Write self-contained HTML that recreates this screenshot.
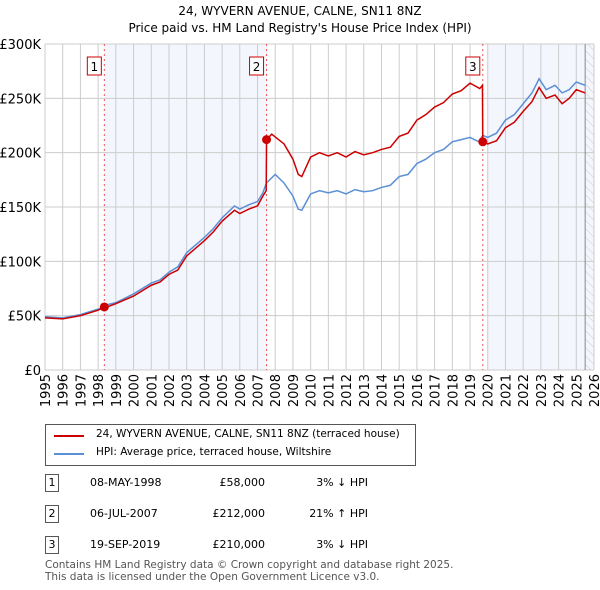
<!DOCTYPE html>
<html><head><meta charset="utf-8"><style>
body{margin:0;background:#fff;font-family:"DejaVu Sans","Liberation Sans",sans-serif;}
#wrap{position:relative;width:600px;height:590px;overflow:hidden}
.t{position:absolute;font-size:11px;color:#000;white-space:nowrap}
.s{font-size:10.5px}
</style></head><body><div id="wrap">
<svg id="svg" width="600" height="420" style="position:absolute;left:0;top:0;font-family:'DejaVu Sans',sans-serif">
<defs><pattern id="hatch" width="6" height="6" patternUnits="userSpaceOnUse" patternTransform="rotate(-45)"><line x1="0" y1="0" x2="0" y2="6" stroke="#ccc" stroke-width="1"/></pattern></defs>
<text x="300" y="15" text-anchor="middle" font-size="12">24, WYVERN AVENUE, CALNE, SN11 8NZ</text>
<text x="300" y="32" text-anchor="middle" font-size="12">Price paid vs. HM Land Registry's House Price Index (HPI)</text>
<g id="g"></g>
</svg>
<div style="position:absolute;left:45px;top:424px;width:369px;height:40px;border:1px solid #555">
<div style="position:absolute;left:8px;top:10px;width:30px;border-top:2px solid #cc0000"></div>
<div class="t s" style="left:50px;top:3px">24, WYVERN AVENUE, CALNE, SN11 8NZ (terraced house)</div>
<div style="position:absolute;left:8px;top:28px;width:30px;border-top:2px solid #5b8fd6"></div>
<div class="t s" style="left:50px;top:21px">HPI: Average price, terraced house, Wiltshire</div>
</div>
<div id="tbl"></div>
<div class="t s" style="left:45px;top:559px;color:#555">Contains HM Land Registry data © Crown copyright and database right 2025.</div>
<div class="t s" style="left:45px;top:571px;color:#555">This data is licensed under the Open Government Licence v3.0.</div>
</div>
<script>
const hpiDates=[1995,1996,1997,1998,1998.35,1998.5,1999,2000,2001,2001.5,2002,2002.5,2003,2003.5,2004,2004.5,2005,2005.7,2006,2006.5,2007,2007.3,2007.5,2008,2008.5,2009,2009.3,2009.5,2010,2010.5,2011,2011.5,2012,2012.5,2013,2013.5,2014,2014.5,2015,2015.5,2016,2016.5,2017,2017.5,2018,2018.5,2019,2019.5,2019.72,2020,2020.5,2021,2021.5,2022,2022.5,2022.9,2023.3,2023.8,2024.2,2024.6,2025,2025.5];
const hpiValues=[49,48,51,56,58,60,62,70,80,83,90,95,108,115,122,130,140,151,148,152,155,163,172,180,172,160,148,147,162,165,163,165,162,166,164,165,168,170,178,180,190,194,200,203,210,212,214,210,216,214,218,230,235,245,255,268,258,262,255,258,265,262];
const redDates=[1995,1996,1997,1998,1998.35,1998.5,1999,2000,2001,2001.5,2002,2002.5,2003,2003.5,2004,2004.5,2005,2005.7,2006,2006.5,2007,2007.3,2007.49,2007.51,2007.8,2008.5,2009,2009.3,2009.5,2010,2010.5,2011,2011.5,2012,2012.5,2013,2013.5,2014,2014.5,2015,2015.5,2016,2016.5,2017,2017.5,2018,2018.5,2019,2019.55,2019.7,2019.72,2020,2020.5,2021,2021.5,2022,2022.5,2022.9,2023.3,2023.8,2024.2,2024.6,2025,2025.5];
const redValues=[48,47,50,55,58,58,61,68,78,81,88,92,105,112,119,127,137,147,144,148,151,160,165,212,217,208,194,180,178,196,200,197,200,196,201,198,200,203,205,215,218,230,235,242,246,254,257,264,259,262,210,208,211,223,228,238,247,260,250,253,245,250,258,255];
const saleLabels=["1","2","3"];
const saleDates=[1998.35,2007.51,2019.72];
const saleValues=[58,212,210];
const saleDateText=["08-MAY-1998","06-JUL-2007","19-SEP-2019"];
const salePriceText=["£58,000","£212,000","£210,000"];
const saleHpiText=["3% ↓ HPI","21% ↑ HPI","3% ↓ HPI"];
const yTicks=[0,50,100,150,200,250,300];
const yTickLabels=["£0","£50K","£100K","£150K","£200K","£250K","£300K"];
const xYears=[1995,1996,1997,1998,1999,2000,2001,2002,2003,2004,2005,2006,2007,2008,2009,2010,2011,2012,2013,2014,2015,2016,2017,2018,2019,2020,2021,2022,2023,2024,2025,2026];
const X0=45,X1=594,Y0=370,Y1=44;
const x=v=>X0+(v-1995)/31*(X1-X0);
const y=v=>Y0-v/300*(Y0-Y1);
const NS="http://www.w3.org/2000/svg",g=document.getElementById('g');
function mk(t,a){const e=document.createElementNS(NS,t);for(const k in a)e.setAttribute(k,a[k]);g.appendChild(e);return e;}
let e;
e=mk('rect',{x:x(saleDates[0]),y:Y1,width:x(saleDates[1])-x(saleDates[0]),height:Y0-Y1,fill:'#eef2fc',opacity:0.7});

e=mk('rect',{x:x(2020),y:Y1,width:x(2026)-x(2020),height:Y0-Y1,fill:'#eef2fc',opacity:0.7});

e=mk('rect',{x:x(2025.5),y:Y1,width:x(2026)-x(2025.5),height:Y0-Y1,fill:'url(#hatch)'});

yTicks.forEach((t,i)=>{
 e=mk('line',{x1:X0,x2:X1,y1:y(t),y2:y(t),stroke:'#ccc'});
 
 e=mk('text',{x:X0-4,y:y(t)+5,'text-anchor':'end','font-size':13});e.textContent=yTickLabels[i];
 
});
xYears.forEach(yr=>{
 e=mk('line',{x1:x(yr),x2:x(yr),y1:Y1,y2:Y0,stroke:'#ccc'});
 
 const tx=x(yr)+5,ty=Y0+4;
 e=mk('text',{x:tx,y:ty,'text-anchor':'end','font-size':13,transform:`rotate(-90 ${tx} ${ty})`});e.textContent=yr;
 
});
e=mk('line',{x1:x(2025.5),x2:x(2025.5),y1:Y1,y2:Y0,stroke:'#888'});

saleDates.forEach((d,i)=>{
 e=mk('line',{x1:x(d),x2:x(d),y1:Y1,y2:Y0,stroke:'#f05050','stroke-dasharray':'2,3'});
 
});
e=mk('polyline',{points:hpiDates.map((d,i)=>x(d)+','+y(hpiValues[i])).join(' '),fill:'none',stroke:'#5b8fd6','stroke-width':1.5});

e=mk('polyline',{points:redDates.map((d,i)=>x(d)+','+y(redValues[i])).join(' '),fill:'none',stroke:'#cc0000','stroke-width':1.5});

saleDates.forEach((d,i)=>{
 e=mk('circle',{cx:x(d),cy:y(saleValues[i]),r:4.5,fill:'#cc0000'});
 
 e=mk('rect',{x:x(d)-17,y:57,width:14,height:18,fill:'#fff',stroke:'#cc0000'});
 
 e=mk('text',{x:x(d)-10,y:71,'text-anchor':'middle','font-size':12});e.textContent=saleLabels[i];
 
});
const tbl=document.getElementById('tbl');
const rowY=[474,505,536];
saleLabels.forEach((l,i)=>{
 const r=document.createElement('div');
 
 
 r.style.cssText=`position:absolute;left:0;top:${rowY[i]}px;width:600px;height:20px`;
 r.innerHTML=`<div style="position:absolute;left:45px;top:0;width:12px;height:16px;border:1px solid #555;font-size:11px;text-align:center;line-height:16px">${l}</div>
 <div class="t" style="left:90px;top:2px">${saleDateText[i]}</div>
 <div class="t" style="left:195px;top:2px;width:70px;text-align:right">${salePriceText[i]}</div>
 <div class="t" style="left:280px;top:2px;width:88px;text-align:right">${saleHpiText[i]}</div>`;
 tbl.appendChild(r);
});
</script></body></html>
